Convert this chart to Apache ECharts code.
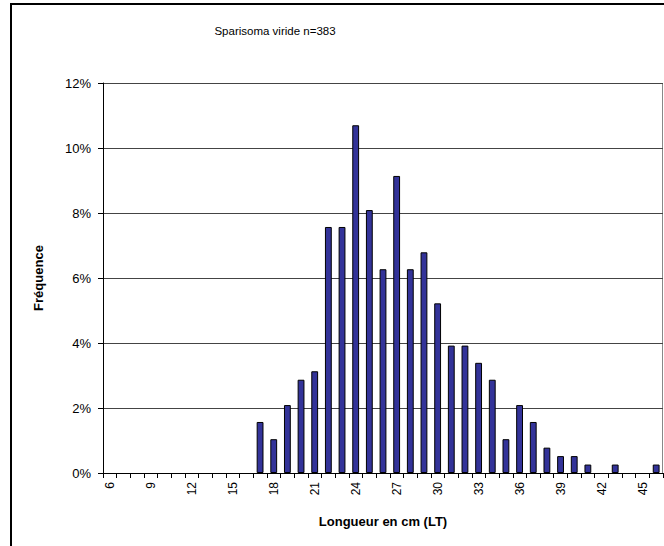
<!DOCTYPE html>
<html>
<head>
<meta charset="utf-8">
<script src="https://cdn.jsdelivr.net/npm/echarts@6/dist/echarts.min.js"></script>
<style>
  html, body { margin: 0; padding: 0; background: #fff; }
  #chart { width: 664px; height: 546px; }
</style>
</head>
<body>
<div id="chart"></div>
<script>
// length classes (cm, LT)
const lengths = ['6','7','8','9','10','11','12','13','14','15','16','17','18','19','20','21','22','23','24','25','26','27','28','29','30','31','32','33','34','35','36','37','38','39','40','41','42','43','44','45','46']
// frequency in %
const freq = [0,0,0,0,0,0,0,0,0,0,0,1.57,1.04,2.09,2.87,3.13,7.57,7.57,10.70,8.09,6.27,9.14,6.27,6.79,5.22,3.92,3.92,3.39,2.87,1.04,2.09,1.57,0.78,0.52,0.52,0.26,0,0.26,0,0,0.26]
const yTicks = [0, 2, 4, 6, 8, 10, 12]

const font = '"Liberation Sans", Arial, sans-serif'
const chart = echarts.init(document.getElementById('chart'), null, {renderer: 'svg'})

chart.setOption({
  animation: false,
  textStyle: {fontFamily: font},
  title: {
    text: 'Sparisoma viride n=383',
    left: 270,
    top: 20,
    textAlign: 'center',
    textStyle: {fontSize: 11.5, fontWeight: 'normal', color: '#000', fontFamily: font}
  },
  graphic: [{
    type: 'rect',
    shape: {x: 11, y: 4, width: 700, height: 600},
    style: {fill: 'none', stroke: '#000', lineWidth: 2},
    silent: true
  }, {
    type: 'line',
    shape: {x1: 662.5, y1: 83, x2: 662.5, y2: 473},
    style: {stroke: '#888', lineWidth: 1},
    silent: true
  }],
  grid: {left: 103, right: 1, top: 83, bottom: 73},
  xAxis: {
    type: 'category',
    data: lengths,
    name: 'Longueur en cm (LT)',
    nameLocation: 'middle',
    nameGap: 42,
    nameTextStyle: {fontSize: 13, fontWeight: 'bold', color: '#000', fontFamily: font},
    axisLine: {lineStyle: {color: '#000', width: 1}},
    axisTick: {show: true, interval: 0, length: 5, alignWithLabel: false, lineStyle: {color: '#000'}},
    axisLabel: {interval: 2, rotate: 90, fontSize: 12, color: '#000', margin: 9, fontFamily: font},
    splitLine: {show: false}
  },
  yAxis: {
    type: 'value',
    min: 0,
    max: 12,
    interval: 2,
    name: 'Fréquence',
    nameLocation: 'middle',
    nameGap: 58,
    nameRotate: 90,
    nameTextStyle: {fontSize: 13, fontWeight: 'bold', color: '#000', fontFamily: font},
    axisLine: {show: true, lineStyle: {color: '#000', width: 1}},
    axisTick: {show: true, length: 5, lineStyle: {color: '#000'}},
    axisLabel: {
      fontSize: 13, color: '#000', margin: 12, fontFamily: font,
      formatter: v => (yTicks.includes(v) ? v + '%' : '')
    },
    splitLine: {show: true, lineStyle: {color: '#444', width: 1}}
  },
  series: [{
    type: 'bar',
    // empty classes draw no bar
    data: freq.map(v => (v === 0 ? '-' : v)),
    barWidth: '50%',
    itemStyle: {color: '#333399', borderColor: '#000', borderWidth: 1}
  }]
})
</script>
</body>
</html>
